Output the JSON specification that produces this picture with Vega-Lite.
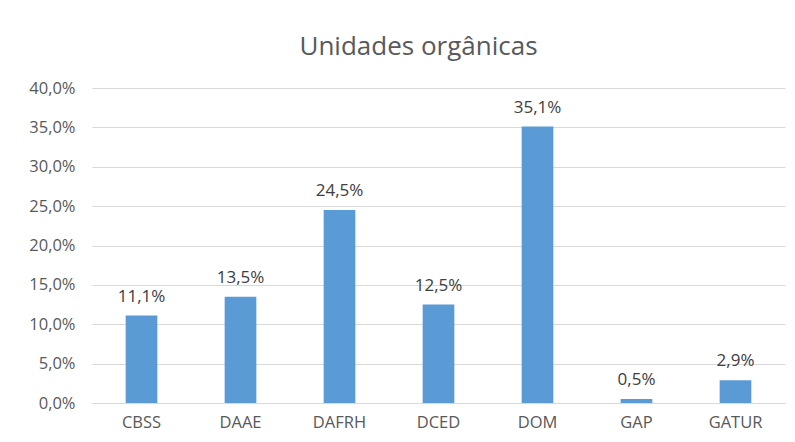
{
  "$schema": "https://vega.github.io/schema/vega-lite/v6.json",
  "width": 693,
  "height": 315,
  "autosize": {"type": "none"},
  "padding": {"left": 92, "top": 88, "right": 10, "bottom": 39},
  "background": "white",
  "config": {
    "locale": {"number": {"decimal": ",", "thousands": ".", "grouping": [3], "currency": ["", " €"]}},
    "font": "Open Sans",
    "view": {"stroke": null}
  },
  "title": {
    "text": "Unidades orgânicas",
    "fontSize": 26,
    "fontWeight": "normal",
    "color": "#595959",
    "font": "Open Sans",
    "anchor": "middle",
    "offset": 20,
    "dx": -20
  },
  "data": {
    "values": [
      {"unidade": "CBSS", "valor": 0.111},
      {"unidade": "DAAE", "valor": 0.135},
      {"unidade": "DAFRH", "valor": 0.245},
      {"unidade": "DCED", "valor": 0.125},
      {"unidade": "DOM", "valor": 0.351},
      {"unidade": "GAP", "valor": 0.005},
      {"unidade": "GATUR", "valor": 0.029}
    ]
  },
  "encoding": {
    "x": {
      "field": "unidade",
      "type": "nominal",
      "sort": null,
      "title": null,
      "scale": {"paddingInner": 0.68, "paddingOuter": 0.34},
      "axis": {
        "labelAngle": 0,
        "labelFontSize": 16.5,
        "labelColor": "#595959",
        "labelPadding": 11,
        "ticks": false,
        "domainColor": "#d9d9d9",
        "labelFont": "Open Sans"
      }
    },
    "y": {
      "field": "valor",
      "type": "quantitative",
      "title": null,
      "scale": {"domain": [0, 0.4]},
      "axis": {
        "values": [0, 0.05, 0.1, 0.15, 0.2, 0.25, 0.3, 0.35, 0.4],
        "format": ".1%",
        "labelFontSize": 16.5,
        "labelColor": "#595959",
        "labelPadding": 17,
        "ticks": false,
        "domain": false,
        "gridColor": "#d9d9d9",
        "labelFont": "Open Sans"
      }
    }
  },
  "layer": [
    {"mark": {"type": "bar", "color": "#5B9BD5"}},
    {
      "mark": {"type": "text", "baseline": "alphabetic", "dy": -14, "fontSize": 17, "color": "#404040", "font": "Open Sans"},
      "encoding": {"text": {"field": "valor", "type": "quantitative", "format": ".1%"}}
    }
  ]
}
